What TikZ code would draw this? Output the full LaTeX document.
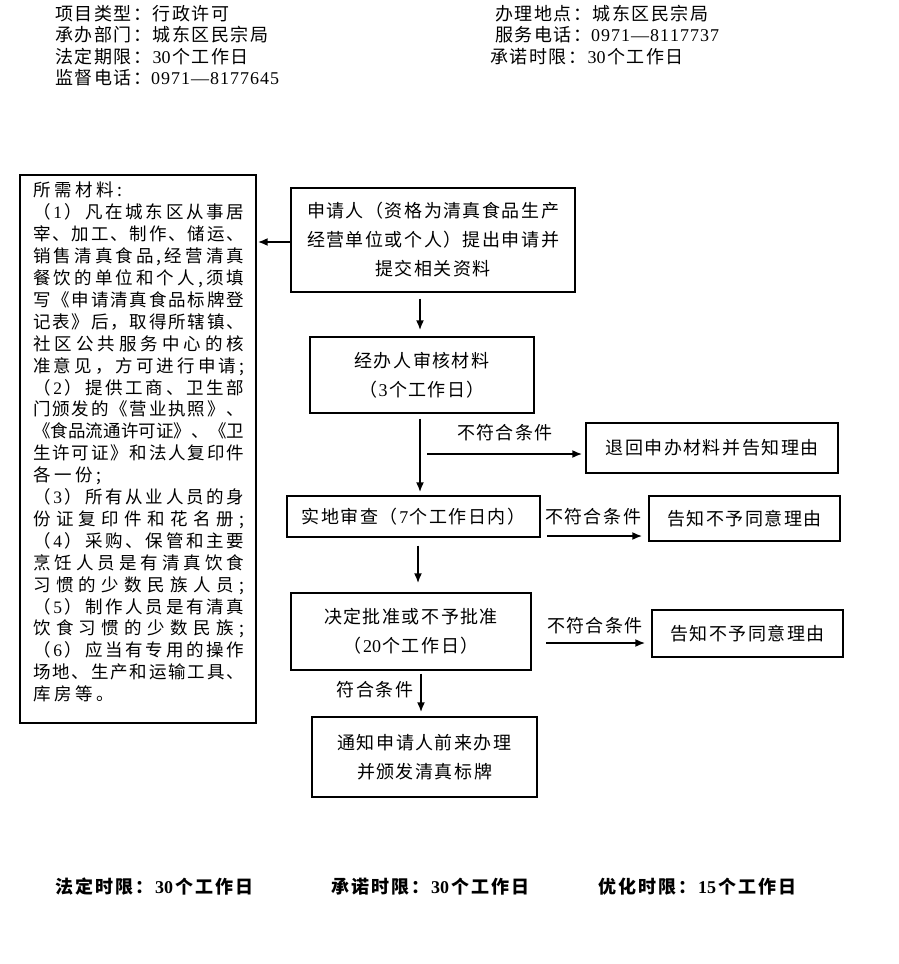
\documentclass[tikz,border=0pt]{standalone}
\usepackage{fontspec}
\setmainfont{Noto Sans CJK SC}
\newfontfamily\digf{Liberation Serif}
\usetikzlibrary{arrows.meta}
\ExplSyntaxOn
\NewDocumentCommand\sptext{O{1.5pt}m}{\tl_map_inline:nn{#2}{{##1}\hskip #1\relax}\unskip}
\NewDocumentCommand\jline{m}{\hbox_to_wd:nn{211pt}{\tl_map_inline:nn{#1}{{##1}\hfil}\unskip}}
\ExplSyntaxOff
\tikzset{
  box/.style={draw, line width=1.3pt, inner sep=0pt, align=center, font=\fontsize{18}{29}\selectfont},
  arr/.style={line width=2.2pt, -{Latex[length=10pt,width=8pt]}},
  hdr/.style={anchor=base west, inner sep=0pt, font=\fontsize{18}{19}\selectfont},
  lbl/.style={inner sep=0pt, font=\fontsize{18}{19}\selectfont},
  bot/.style={anchor=base west, inner sep=0pt, font=\fontsize{18}{19}\selectfont\bfseries}
}
\begin{document}
\begin{tikzpicture}[x=1pt,y=-1pt]
\useasboundingbox (0,0) rectangle (899,964);
\fill[white] (0,0) rectangle (899,964);
% header
\node[hdr] (h1) at (55,20) {\sptext{项目类型：行政许可}};
\node[hdr] (h2) at (55,41.5) {\sptext{承办部门：城东区民宗局}};
\node[hdr] (h3) at (55,63) {\sptext{法定期限：{\digf 30}个工作日}};
\node[hdr] (h4) at (55,84) {\sptext{监督电话：}{\digf\sptext[1pt]{0971—8177645}}};
\node[hdr] (h5) at (495,20) {\sptext{办理地点：城东区民宗局}};
\node[hdr] (h6) at (495,41) {\sptext{服务电话：}{\digf\sptext[1pt]{0971—8117737}}};
\node[hdr] (h7) at (490,63.5) {\sptext{承诺时限：{\digf 30}个工作日}};
% materials box
\node[box, minimum width=236pt, minimum height=548pt] (mat) at (138,449) {};
\node[anchor=north west, inner sep=0pt] (mattext) at (33,182) {\begin{minipage}[t]{211pt}\fontsize{17.5}{21.9}\selectfont\lineskiplimit=-100pt
\hbox{\sptext[3.5pt]{所需材料:}}
\jline{（{\digf 1}）凡在城东区从事居}
\jline{宰、加工、制作、储运、}
\jline{销售清真食品,经营清真}
\jline{餐饮的单位和个人,须填}
\jline{写《申请清真食品标牌登}
\jline{记表》后，取得所辖镇、}
\jline{社区公共服务中心的核}
\jline{准意见，方可进行申请;}
\jline{（{\digf 2}）提供工商、卫生部}
\jline{门颁发的《营业执照》、}
\jline{《食品流通许可证》、《卫}
\jline{生许可证》和法人复印件}
\hbox{\sptext[3.5pt]{各一份;}}
\jline{（{\digf 3}）所有从业人员的身}
\jline{份证复印件和花名册;}
\jline{（{\digf 4}）采购、保管和主要}
\jline{烹饪人员是有清真饮食}
\jline{习惯的少数民族人员;}
\jline{（{\digf 5}）制作人员是有清真}
\jline{饮食习惯的少数民族;}
\jline{（{\digf 6}）应当有专用的操作}
\jline{场地、生产和运输工具、}
\hbox{\sptext[3.5pt]{库房等。}}
\end{minipage}};
% flow boxes
\node[box, minimum width=284pt, minimum height=104pt] (A) at (433,240) {\sptext{申请人（资格为清真食品生产}\\\sptext{经营单位或个人）提出申请并}\\\sptext{提交相关资料}};
\node[box, minimum width=224pt, minimum height=76pt] (B) at (422,375) {\sptext{经办人审核材料}\\\sptext{（{\digf 3}个工作日）}};
\node[box, minimum width=253pt, minimum height=41pt] (C) at (413.5,516.5) {\sptext{实地审查（{\digf 7}个工作日内）}};
\node[box, minimum width=252pt, minimum height=50pt] (D) at (712,448) {\sptext{退回申办材料并告知理由}};
\node[box, minimum width=191pt, minimum height=45pt] (E) at (744.5,518.5) {\sptext{告知不予同意理由}};
\node[box, minimum width=240pt, minimum height=77pt] (F) at (411,631.5) {\sptext{决定批准或不予批准}\\\sptext{（{\digf 20}个工作日）}};
\node[box, minimum width=191pt, minimum height=47pt] (G) at (747.5,633.5) {\sptext{告知不予同意理由}};
\node[box, minimum width=225pt, minimum height=80pt] (H) at (424.5,757) {\sptext{通知申请人前来办理}\\\sptext{并颁发清真标牌}};
% labels
\node[lbl] (l1) at (505,433) {\sptext{不符合条件}};
\node[lbl] (l2) at (593,517) {\sptext{不符合条件}};
\node[lbl] (l3) at (595,626) {\sptext{不符合条件}};
\node[lbl] (l4) at (375,690) {\sptext{符合条件}};
% connectors
\coordinate (b0) at (290,242);
\draw[arr, shorten >=1pt] (b0) -- (mat.east |- b0);
\coordinate (c1) at (420,0);
\draw[arr, shorten <=6pt, shorten >=6pt] (A.south -| c1) -- (B.north -| c1);
\draw[arr, shorten <=5pt, shorten >=3pt] (B.south -| c1) -- (C.north -| c1);
\coordinate (b1) at (427,454);
\draw[arr, shorten >=3pt] (b1) -- (D.west |- b1);
\coordinate (b2) at (547,536);
\draw[arr, shorten >=6pt] (b2) -- (E.west |- b2);
\coordinate (c2) at (418,0);
\draw[arr, shorten <=8pt, shorten >=9pt] (C.south -| c2) -- (F.north -| c2);
\coordinate (b3) at (546,643);
\draw[arr, shorten >=6pt] (b3) -- (G.west |- b3);
\coordinate (c3) at (421,0);
\draw[arr, shorten <=3pt, shorten >=4pt] (F.south -| c3) -- (H.north -| c3);
% bottom
\node[bot] (t1) at (55,893) {\sptext[2pt]{法定时限：{\digf\bfseries 30}个工作日}};
\node[bot] (t2) at (331,893) {\sptext[2pt]{承诺时限：{\digf\bfseries 30}个工作日}};
\node[bot] (t3) at (598,893) {\sptext[2pt]{优化时限：{\digf\bfseries 15}个工作日}};
\end{tikzpicture}
\end{document}
